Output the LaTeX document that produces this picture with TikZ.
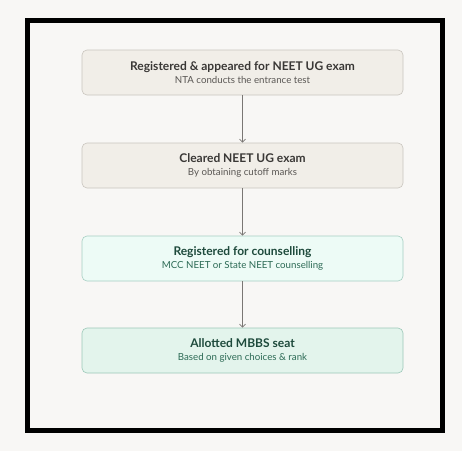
\documentclass[tikz,border=0pt]{standalone}
\usepackage{fontspec}
\setmainfont{Lato}
\usetikzlibrary{arrows.meta}
\definecolor{bg}{HTML}{F8F7F5}
\definecolor{beigefill}{HTML}{F1EEE8}
\definecolor{beigeedge}{HTML}{C9C5BE}
\definecolor{mintfill}{HTML}{EDFBF6}
\definecolor{mintedge}{HTML}{A6CFC2}
\definecolor{greenfill}{HTML}{E3F4EC}
\definecolor{greenedge}{HTML}{9CC8B8}
\definecolor{titlegray}{HTML}{3A3836}
\definecolor{subgray}{HTML}{5A5754}
\definecolor{titlegreen}{HTML}{1E4A3C}
\definecolor{subgreen}{HTML}{2C6A55}
\definecolor{arrowgray}{HTML}{7A7774}
\tikzset{
  x=1pt, y=1pt,
  stepbox/.style={draw, rounded corners=5pt, line width=0.6pt, minimum width=321pt, minimum height=45pt, inner sep=0pt, align=center},
  beigebox/.style={stepbox, fill=beigefill, draw=beigeedge},
  mintbox/.style={stepbox, fill=mintfill, draw=mintedge},
  greenbox/.style={stepbox, fill=greenfill, draw=greenedge},
  conn/.style={draw=arrowgray, line width=0.7pt, -{Straight Barb[length=3pt,width=6pt]}},
}
\newcommand{\ttl}[2]{{\fontsize{12}{14}\selectfont\bfseries\color{#1}#2}}
\newcommand{\sbt}[2]{{\fontsize{9.7}{11}\selectfont\color{#1}#2}}
\begin{document}
\begin{tikzpicture}
\fill[bg] (0,0) rectangle (462,451);
\useasboundingbox (0,0) rectangle (462,451);
\draw[black, line width=5pt] (27.5,20.5) rectangle (442.5,430.5);
\node[beigebox] (a) at (242.5,378.5) {\ttl{titlegray}{Registered \& appeared for NEET UG exam}\\[1pt]\sbt{subgray}{NTA conducts the entrance test}};
\node[beigebox] (b) at (242.5,285.5) {\ttl{titlegray}{Cleared NEET UG exam}\\[1pt]\sbt{subgray}{By obtaining cutoff marks}};
\node[mintbox] (c) at (242.5,192.5) {\ttl{titlegreen}{Registered for counselling}\\[1pt]\sbt{subgreen}{MCC NEET or State NEET counselling}};
\node[greenbox] (d) at (242.5,100.5) {\ttl{titlegreen}{Allotted MBBS seat}\\[1pt]\sbt{subgreen}{Based on given choices \& rank}};
\draw[conn] (a) -- (b);
\draw[conn] (b) -- (c);
\draw[conn] (c) -- (d);
\end{tikzpicture}
\end{document}
